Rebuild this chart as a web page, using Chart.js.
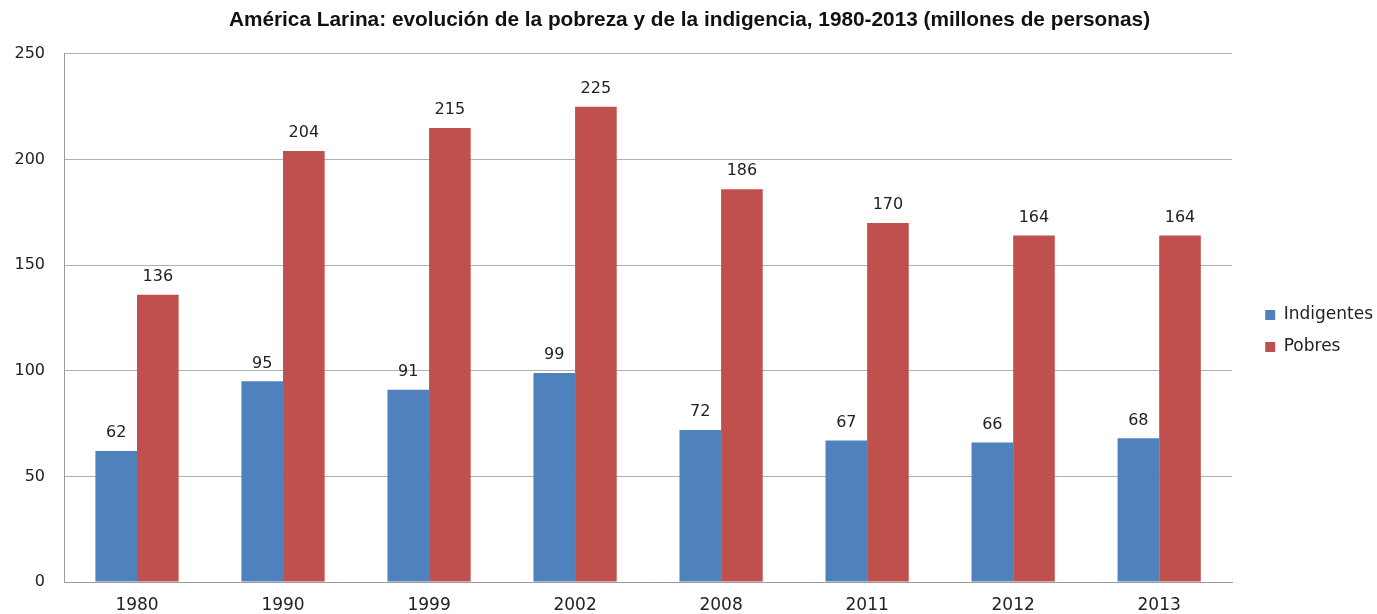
<!DOCTYPE html>
<html>
<head>
<meta charset="utf-8">
<script src="https://cdn.jsdelivr.net/npm/chart.js@4"></script>
<style>
  html, body { margin: 0; padding: 0; background: #fff; }
  #wrap { width: 1377px; height: 614px; }
</style>
</head>
<body>
<div id="wrap"><canvas id="chart"></canvas></div>
<script>
const years = ['1980', '1990', '1999', '2002', '2008', '2011', '2012', '2013'];
const indigentes = [62, 95, 91, 99, 72, 67, 66, 68];
const pobres = [136, 204, 215, 225, 186, 170, 164, 164];
const yTicks = [0, 50, 100, 150, 200, 250];

// values written above each bar
const barLabels = {
    id: 'barLabels',
    afterDatasetsDraw(chart) {
        const ctx = chart.ctx;
        ctx.save();
        ctx.font = '16px "DejaVu Sans"';
        ctx.fillStyle = '#222';
        ctx.textAlign = 'center';
        ctx.textBaseline = 'bottom';
        chart.data.datasets.forEach((ds, i) => {
            chart.getDatasetMeta(i).data.forEach((bar, j) => {
                ctx.fillText(ds.data[j], bar.x, bar.y - 10);
            });
        });
        ctx.restore();
    }
};

// push the legend a bit further right, like the original
const legendShift = {
    id: 'legendShift',
    afterUpdate(chart) {
        const lg = chart.legend;
        if (!lg) return;
        lg.left += 18;
        lg.right += 18;
        lg.adjustHitBoxes();
    }
};

const ctx = document.getElementById('chart').getContext('2d');
new Chart(ctx, {
    type: 'bar',
    data: {
        labels: years,
        datasets: [{
            label: 'Indigentes',
            data: indigentes,
            backgroundColor: '#4F81BD'
        }, {
            label: 'Pobres',
            data: pobres,
            backgroundColor: '#C0504D'
        }]
    },
    options: {
        responsive: true,
        maintainAspectRatio: false,
        animation: false,
        layout: { padding: { left: 14, right: 12, top: 6, bottom: 0 } },
        datasets: { bar: { categoryPercentage: 0.57, barPercentage: 1.0 } },
        plugins: {
            title: {
                display: true,
                text: 'América Larina: evolución de la pobreza y de la indigencia, 1980-2013 (millones de personas)',
                font: { family: 'Liberation Sans', size: 20.8, weight: 'bold' },
                color: '#111',
                padding: { top: 2, bottom: 21 }
            },
            legend: {
                position: 'right',
                title: {
                    display: true,
                    text: ' ',
                    font: { size: 10 },
                    padding: 15
                },
                labels: {
                    font: { family: 'DejaVu Sans', size: 17 },
                    color: '#222',
                    boxWidth: 10,
                    boxHeight: 10,
                    padding: 15
                }
            },
            tooltip: { enabled: false }
        },
        scales: {
            x: {
                afterFit(scale) { scale.height = 32; },
                grid: { display: false, drawTicks: false },
                border: { color: '#9a9a9a' },
                ticks: {
                    font: { family: 'DejaVu Sans', size: 17 },
                    color: '#222',
                    padding: 13
                }
            },
            y: {
                min: 0,
                max: 250,
                afterBuildTicks(axis) {
                    axis.ticks = yTicks.map(v => ({ value: v }));
                },
                afterFit(scale) { scale.width = 50; },
                grid: { color: '#b0b0b0', drawTicks: false },
                border: { color: '#9a9a9a' },
                ticks: {
                    font: { family: 'DejaVu Sans', size: 16 },
                    color: '#222',
                    padding: 19
                }
            }
        }
    },
    plugins: [barLabels, legendShift]
});
</script>
</body>
</html>
